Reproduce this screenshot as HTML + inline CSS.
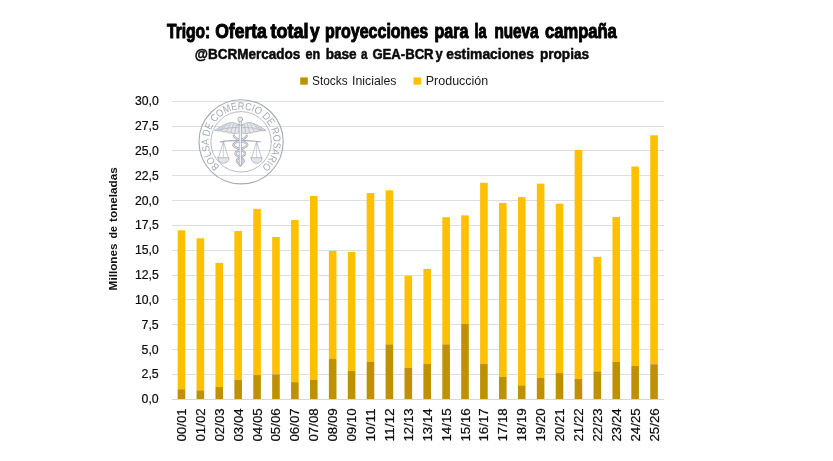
<!DOCTYPE html>
<html lang="es"><head><meta charset="utf-8"><title>Trigo: Oferta total y proyecciones para la nueva campaña</title>
<style>html,body{margin:0;padding:0;background:#fff}body{width:833px;height:461px;overflow:hidden}svg{display:block}text{font-family:"Liberation Sans",sans-serif}</style></head><body>
<svg width="833" height="461" viewBox="0 0 833 461">
<rect width="833" height="461" fill="#fff"/>
<g stroke="#dedede" stroke-width="1" fill="none" shape-rendering="crispEdges">
<line x1="172.0" x2="663.5" y1="399.20" y2="399.20"/>
<line x1="172.0" x2="663.5" y1="374.37" y2="374.37"/>
<line x1="172.0" x2="663.5" y1="349.53" y2="349.53"/>
<line x1="172.0" x2="663.5" y1="324.70" y2="324.70"/>
<line x1="172.0" x2="663.5" y1="299.87" y2="299.87"/>
<line x1="172.0" x2="663.5" y1="275.04" y2="275.04"/>
<line x1="172.0" x2="663.5" y1="250.20" y2="250.20"/>
<line x1="172.0" x2="663.5" y1="225.37" y2="225.37"/>
<line x1="172.0" x2="663.5" y1="200.54" y2="200.54"/>
<line x1="172.0" x2="663.5" y1="175.71" y2="175.71"/>
<line x1="172.0" x2="663.5" y1="150.88" y2="150.88"/>
<line x1="172.0" x2="663.5" y1="126.04" y2="126.04"/>
<line x1="172.0" x2="663.5" y1="101.21" y2="101.21"/>
</g>
<g fill="none" stroke="#a8acb7" stroke-linecap="round" stroke-linejoin="round">
<circle cx="241.1" cy="141.8" r="42.1" stroke-width="1.15"/>
<circle cx="241.1" cy="141.8" r="30.2" stroke-width="0.8"/>
<path id="lp" d="M219.84,166.25 A32.40,32.40 0 1 1 262.36,117.35 A32.40,32.40 0 1 1 219.84,166.25" stroke="none"/>
<text font-size="10.4" fill="#a4a9b4" stroke="none" letter-spacing="0"><textPath href="#lp" startOffset="0" textLength="157.8" lengthAdjust="spacingAndGlyphs">BOLSA DE COMERCIO DE ROSARIO</textPath></text>
<path d="M239.1,125.2 C235.3,122.6 231.3,121.8 227.3,123.4 C222.3,125.4 218.3,128.2 214.7,130.4 C217.3,130.8 219.3,130.9 220.8,130.6 C222.8,131.9 224.8,132.2 226.3,131.7 C228.3,133.1 230.3,133.4 231.5,132.8 C233.3,134.0 234.8,134.0 235.7,133.2 C237.1,134.0 238.5,133.4 239.1,131.5 Z" stroke-width="0.8" fill="#e4e6ea"/><path d="M236.3,125.0 L234.7,133.2" stroke-width="0.6"/><path d="M233.3,124.0 L230.8,132.8" stroke-width="0.6"/><path d="M230.3,123.6 L226.3,131.6" stroke-width="0.6"/><path d="M227.3,124.2 L221.3,130.6" stroke-width="0.6"/><path d="M224.3,126.0 L217.8,130.6" stroke-width="0.6"/><path d="M238.8,127.6 C232.3,127.0 225.3,128.2 218.3,130.2" stroke-width="0.6"/>
<path d="M241.5,125.2 C245.3,122.6 249.3,121.8 253.3,123.4 C258.3,125.4 262.3,128.2 265.9,130.4 C263.3,130.8 261.3,130.9 259.8,130.6 C257.8,131.9 255.8,132.2 254.3,131.7 C252.3,133.1 250.3,133.4 249.1,132.8 C247.3,134.0 245.8,134.0 244.9,133.2 C243.5,134.0 242.1,133.4 241.5,131.5 Z" stroke-width="0.8" fill="#e4e6ea"/><path d="M244.3,125.0 L245.9,133.2" stroke-width="0.6"/><path d="M247.3,124.0 L249.8,132.8" stroke-width="0.6"/><path d="M250.3,123.6 L254.3,131.6" stroke-width="0.6"/><path d="M253.3,124.2 L259.3,130.6" stroke-width="0.6"/><path d="M256.3,126.0 L262.8,130.6" stroke-width="0.6"/><path d="M241.8,127.6 C248.3,127.0 255.3,128.2 262.3,130.2" stroke-width="0.6"/>
<path d="M220.3,141.9 C226,140.6 233,140.5 240.3,140.6 C247.6,140.5 254.6,140.6 260.3,141.9" stroke-width="1.1"/>
<path d="M218.5,157.7 L223.4,141.6 L228.3,157.7" stroke-width="0.7"/>
<path d="M223.4,141.6 V157.7" stroke-width="0.5"/>
<path d="M217.8,157.7 H229.0 C228.6,162 225.9,163.2 223.4,163.2 C220.9,163.2 218.2,162 217.8,157.7 Z" stroke-width="0.8" fill="#e3e5ea"/>
<path d="M251.7,157.7 L256.6,141.6 L261.5,157.7" stroke-width="0.7"/>
<path d="M256.6,141.6 V157.7" stroke-width="0.5"/>
<path d="M251.0,157.7 H262.2 C261.8,162 259.1,163.2 256.6,163.2 C254.1,163.2 251.4,162 251.0,157.7 Z" stroke-width="0.8" fill="#e3e5ea"/>
<path d="M246.74,135.80 L246.59,136.13 L246.38,136.46 L246.11,136.79 L245.79,137.12 L245.42,137.45 L245.01,137.78 L244.54,138.11 L244.04,138.44 L243.50,138.77 L242.93,139.10 L242.34,139.43 L241.72,139.76 L241.09,140.09 L240.45,140.42 L239.69,140.76 L238.91,141.09 L238.15,141.42 L237.41,141.75 L236.71,142.08 L236.05,142.41 L235.44,142.74 L234.90,143.07 L234.43,143.40 L234.03,143.73 L233.71,144.06 L233.48,144.39 L233.35,144.72 L233.31,145.05 L233.46,145.38 L233.69,145.71 L234.01,146.04 L234.40,146.37 L234.86,146.70 L235.38,147.03 L235.96,147.36 L236.58,147.69 L237.23,148.02 L237.91,148.35 L238.60,148.68 L239.29,149.01 L239.98,149.34 L240.65,149.67 L241.30,150.00 L241.92,150.33 L242.50,150.67 L243.03,151.00 L243.50,151.33 L243.92,151.66 L244.28,151.99 L244.57,152.32 L244.79,152.65 L244.95,152.98 L245.04,153.31 L245.05,153.64 L245.01,153.97 L244.90,154.30 L244.70,154.63 L244.41,154.96 L244.03,155.29 L243.59,155.62 L243.08,155.95 L242.52,156.28 L241.94,156.61 L241.33,156.94 L240.72,157.27 L240.12,157.60 L239.53,157.93 L238.99,158.26 L238.49,158.59 L238.04,158.92 L237.66,159.25 L237.35,159.58 L237.12,159.91 L236.96,160.24 L236.88,160.58 L236.89,160.91 L236.99,161.24 L237.16,161.57 L237.37,161.90 L237.62,162.23 L237.89,162.56 L238.19,162.89 L238.50,163.22 L238.82,163.55 L239.14,163.88 L239.46,164.21 L239.76,164.54 L240.04,164.87 L240.30,165.20" stroke-width="2.3"/>
<path d="M246.74,135.80 L246.59,136.13 L246.38,136.46 L246.11,136.79 L245.79,137.12 L245.42,137.45 L245.01,137.78 L244.54,138.11 L244.04,138.44 L243.50,138.77 L242.93,139.10 L242.34,139.43 L241.72,139.76 L241.09,140.09 L240.45,140.42 L239.69,140.76 L238.91,141.09 L238.15,141.42 L237.41,141.75 L236.71,142.08 L236.05,142.41 L235.44,142.74 L234.90,143.07 L234.43,143.40 L234.03,143.73 L233.71,144.06 L233.48,144.39 L233.35,144.72 L233.31,145.05 L233.46,145.38 L233.69,145.71 L234.01,146.04 L234.40,146.37 L234.86,146.70 L235.38,147.03 L235.96,147.36 L236.58,147.69 L237.23,148.02 L237.91,148.35 L238.60,148.68 L239.29,149.01 L239.98,149.34 L240.65,149.67 L241.30,150.00 L241.92,150.33 L242.50,150.67 L243.03,151.00 L243.50,151.33 L243.92,151.66 L244.28,151.99 L244.57,152.32 L244.79,152.65 L244.95,152.98 L245.04,153.31 L245.05,153.64 L245.01,153.97 L244.90,154.30 L244.70,154.63 L244.41,154.96 L244.03,155.29 L243.59,155.62 L243.08,155.95 L242.52,156.28 L241.94,156.61 L241.33,156.94 L240.72,157.27 L240.12,157.60 L239.53,157.93 L238.99,158.26 L238.49,158.59 L238.04,158.92 L237.66,159.25 L237.35,159.58 L237.12,159.91 L236.96,160.24 L236.88,160.58 L236.89,160.91 L236.99,161.24 L237.16,161.57 L237.37,161.90 L237.62,162.23 L237.89,162.56 L238.19,162.89 L238.50,163.22 L238.82,163.55 L239.14,163.88 L239.46,164.21 L239.76,164.54 L240.04,164.87 L240.30,165.20" stroke="#eef0f3" stroke-width="0.9"/>
<path d="M233.86,135.80 L234.01,136.13 L234.22,136.46 L234.49,136.79 L234.81,137.12 L235.18,137.45 L235.59,137.78 L236.06,138.11 L236.56,138.44 L237.10,138.77 L237.67,139.10 L238.26,139.43 L238.88,139.76 L239.51,140.09 L240.15,140.42 L240.91,140.76 L241.69,141.09 L242.45,141.42 L243.19,141.75 L243.89,142.08 L244.55,142.41 L245.16,142.74 L245.70,143.07 L246.17,143.40 L246.57,143.73 L246.89,144.06 L247.12,144.39 L247.25,144.72 L247.29,145.05 L247.14,145.38 L246.91,145.71 L246.59,146.04 L246.20,146.37 L245.74,146.70 L245.22,147.03 L244.64,147.36 L244.02,147.69 L243.37,148.02 L242.69,148.35 L242.00,148.68 L241.31,149.01 L240.62,149.34 L239.95,149.67 L239.30,150.00 L238.68,150.33 L238.10,150.67 L237.57,151.00 L237.10,151.33 L236.68,151.66 L236.32,151.99 L236.03,152.32 L235.81,152.65 L235.65,152.98 L235.56,153.31 L235.55,153.64 L235.59,153.97 L235.70,154.30 L235.90,154.63 L236.19,154.96 L236.57,155.29 L237.01,155.62 L237.52,155.95 L238.08,156.28 L238.66,156.61 L239.27,156.94 L239.88,157.27 L240.48,157.60 L241.07,157.93 L241.61,158.26 L242.11,158.59 L242.56,158.92 L242.94,159.25 L243.25,159.58 L243.48,159.91 L243.64,160.24 L243.72,160.58 L243.71,160.91 L243.61,161.24 L243.44,161.57 L243.23,161.90 L242.98,162.23 L242.71,162.56 L242.41,162.89 L242.10,163.22 L241.78,163.55 L241.46,163.88 L241.14,164.21 L240.84,164.54 L240.56,164.87 L240.30,165.20" stroke-width="2.3"/>
<path d="M233.86,135.80 L234.01,136.13 L234.22,136.46 L234.49,136.79 L234.81,137.12 L235.18,137.45 L235.59,137.78 L236.06,138.11 L236.56,138.44 L237.10,138.77 L237.67,139.10 L238.26,139.43 L238.88,139.76 L239.51,140.09 L240.15,140.42 L240.91,140.76 L241.69,141.09 L242.45,141.42 L243.19,141.75 L243.89,142.08 L244.55,142.41 L245.16,142.74 L245.70,143.07 L246.17,143.40 L246.57,143.73 L246.89,144.06 L247.12,144.39 L247.25,144.72 L247.29,145.05 L247.14,145.38 L246.91,145.71 L246.59,146.04 L246.20,146.37 L245.74,146.70 L245.22,147.03 L244.64,147.36 L244.02,147.69 L243.37,148.02 L242.69,148.35 L242.00,148.68 L241.31,149.01 L240.62,149.34 L239.95,149.67 L239.30,150.00 L238.68,150.33 L238.10,150.67 L237.57,151.00 L237.10,151.33 L236.68,151.66 L236.32,151.99 L236.03,152.32 L235.81,152.65 L235.65,152.98 L235.56,153.31 L235.55,153.64 L235.59,153.97 L235.70,154.30 L235.90,154.63 L236.19,154.96 L236.57,155.29 L237.01,155.62 L237.52,155.95 L238.08,156.28 L238.66,156.61 L239.27,156.94 L239.88,157.27 L240.48,157.60 L241.07,157.93 L241.61,158.26 L242.11,158.59 L242.56,158.92 L242.94,159.25 L243.25,159.58 L243.48,159.91 L243.64,160.24 L243.72,160.58 L243.71,160.91 L243.61,161.24 L243.44,161.57 L243.23,161.90 L242.98,162.23 L242.71,162.56 L242.41,162.89 L242.10,163.22 L241.78,163.55 L241.46,163.88 L241.14,164.21 L240.84,164.54 L240.56,164.87 L240.30,165.20" stroke="#eef0f3" stroke-width="0.9"/>
<path d="M240.3,122 V164.8" stroke-width="3.0"/>
<path d="M240.3,122 V164.4" stroke="#f0f1f4" stroke-width="1.5"/>
<path d="M237.3,125.1 H243.3" stroke-width="0.9"/>
<circle cx="240.3" cy="119.4" r="2.3" stroke-width="0.9" fill="#eceef1"/>
</g>
<g>
<rect x="177.65" y="230.34" width="7.60" height="158.93" fill="#ffc000"/>
<rect x="177.65" y="389.27" width="7.60" height="9.93" fill="#bf9000"/>
<rect x="196.56" y="238.29" width="7.60" height="152.07" fill="#ffc000"/>
<rect x="196.56" y="390.36" width="7.60" height="8.84" fill="#bf9000"/>
<rect x="215.46" y="262.82" width="7.60" height="124.26" fill="#ffc000"/>
<rect x="215.46" y="387.08" width="7.60" height="12.12" fill="#bf9000"/>
<rect x="234.36" y="231.03" width="7.60" height="148.60" fill="#ffc000"/>
<rect x="234.36" y="379.63" width="7.60" height="19.57" fill="#bf9000"/>
<rect x="253.27" y="208.88" width="7.60" height="166.18" fill="#ffc000"/>
<rect x="253.27" y="375.06" width="7.60" height="24.14" fill="#bf9000"/>
<rect x="272.17" y="236.99" width="7.60" height="137.37" fill="#ffc000"/>
<rect x="272.17" y="374.37" width="7.60" height="24.83" fill="#bf9000"/>
<rect x="291.07" y="220.01" width="7.60" height="162.11" fill="#ffc000"/>
<rect x="291.07" y="382.12" width="7.60" height="17.08" fill="#bf9000"/>
<rect x="309.98" y="195.87" width="7.60" height="183.76" fill="#ffc000"/>
<rect x="309.98" y="379.63" width="7.60" height="19.57" fill="#bf9000"/>
<rect x="328.88" y="251.00" width="7.60" height="107.97" fill="#ffc000"/>
<rect x="328.88" y="358.97" width="7.60" height="40.23" fill="#bf9000"/>
<rect x="347.79" y="251.99" width="7.60" height="119.00" fill="#ffc000"/>
<rect x="347.79" y="370.99" width="7.60" height="28.21" fill="#bf9000"/>
<rect x="366.69" y="193.09" width="7.60" height="168.66" fill="#ffc000"/>
<rect x="366.69" y="361.75" width="7.60" height="37.45" fill="#bf9000"/>
<rect x="385.59" y="190.31" width="7.60" height="154.06" fill="#ffc000"/>
<rect x="385.59" y="344.37" width="7.60" height="54.83" fill="#bf9000"/>
<rect x="404.50" y="275.83" width="7.60" height="92.08" fill="#ffc000"/>
<rect x="404.50" y="367.91" width="7.60" height="31.29" fill="#bf9000"/>
<rect x="423.40" y="268.88" width="7.60" height="95.16" fill="#ffc000"/>
<rect x="423.40" y="364.04" width="7.60" height="35.16" fill="#bf9000"/>
<rect x="442.31" y="217.23" width="7.60" height="127.14" fill="#ffc000"/>
<rect x="442.31" y="344.37" width="7.60" height="54.83" fill="#bf9000"/>
<rect x="461.21" y="215.34" width="7.60" height="108.67" fill="#ffc000"/>
<rect x="461.21" y="324.01" width="7.60" height="75.19" fill="#bf9000"/>
<rect x="480.11" y="182.76" width="7.60" height="181.28" fill="#ffc000"/>
<rect x="480.11" y="364.04" width="7.60" height="35.16" fill="#bf9000"/>
<rect x="499.02" y="202.92" width="7.60" height="174.03" fill="#ffc000"/>
<rect x="499.02" y="376.95" width="7.60" height="22.25" fill="#bf9000"/>
<rect x="517.92" y="197.06" width="7.60" height="188.33" fill="#ffc000"/>
<rect x="517.92" y="385.39" width="7.60" height="13.81" fill="#bf9000"/>
<rect x="536.83" y="183.65" width="7.60" height="193.99" fill="#ffc000"/>
<rect x="536.83" y="377.65" width="7.60" height="21.55" fill="#bf9000"/>
<rect x="555.73" y="203.62" width="7.60" height="169.46" fill="#ffc000"/>
<rect x="555.73" y="373.08" width="7.60" height="26.12" fill="#bf9000"/>
<rect x="574.63" y="149.88" width="7.60" height="229.15" fill="#ffc000"/>
<rect x="574.63" y="379.04" width="7.60" height="20.16" fill="#bf9000"/>
<rect x="593.54" y="256.86" width="7.60" height="114.53" fill="#ffc000"/>
<rect x="593.54" y="371.39" width="7.60" height="27.81" fill="#bf9000"/>
<rect x="612.44" y="216.93" width="7.60" height="145.02" fill="#ffc000"/>
<rect x="612.44" y="361.95" width="7.60" height="37.25" fill="#bf9000"/>
<rect x="631.34" y="166.47" width="7.60" height="199.55" fill="#ffc000"/>
<rect x="631.34" y="366.02" width="7.60" height="33.18" fill="#bf9000"/>
<rect x="650.25" y="135.28" width="7.60" height="228.96" fill="#ffc000"/>
<rect x="650.25" y="364.24" width="7.60" height="34.96" fill="#bf9000"/>
</g>
<line x1="172.0" x2="663.5" y1="399.20" y2="399.20" stroke="#d4d6da" stroke-width="1" shape-rendering="crispEdges"/>
<g font-size="12" fill="#0a0a0a" stroke="#0a0a0a" stroke-width="0.2" text-anchor="end">
<text x="158.7" y="403.30" textLength="17.2" lengthAdjust="spacingAndGlyphs">0,0</text>
<text x="158.7" y="378.47" textLength="17.2" lengthAdjust="spacingAndGlyphs">2,5</text>
<text x="158.7" y="353.63" textLength="17.2" lengthAdjust="spacingAndGlyphs">5,0</text>
<text x="158.7" y="328.80" textLength="17.2" lengthAdjust="spacingAndGlyphs">7,5</text>
<text x="158.7" y="303.97" textLength="23.8" lengthAdjust="spacingAndGlyphs">10,0</text>
<text x="158.7" y="279.14" textLength="23.8" lengthAdjust="spacingAndGlyphs">12,5</text>
<text x="158.7" y="254.30" textLength="23.8" lengthAdjust="spacingAndGlyphs">15,0</text>
<text x="158.7" y="229.47" textLength="23.8" lengthAdjust="spacingAndGlyphs">17,5</text>
<text x="158.7" y="204.64" textLength="23.8" lengthAdjust="spacingAndGlyphs">20,0</text>
<text x="158.7" y="179.81" textLength="23.8" lengthAdjust="spacingAndGlyphs">22,5</text>
<text x="158.7" y="154.97" textLength="23.8" lengthAdjust="spacingAndGlyphs">25,0</text>
<text x="158.7" y="130.14" textLength="23.8" lengthAdjust="spacingAndGlyphs">27,5</text>
<text x="158.7" y="105.31" textLength="23.8" lengthAdjust="spacingAndGlyphs">30,0</text>
</g>
<g font-size="12.2" fill="#0a0a0a" stroke="#0a0a0a" stroke-width="0.2">
<text transform="translate(185.95,441.6) rotate(-90)" textLength="33.3" lengthAdjust="spacingAndGlyphs">00/01</text>
<text transform="translate(204.86,441.6) rotate(-90)" textLength="33.3" lengthAdjust="spacingAndGlyphs">01/02</text>
<text transform="translate(223.76,441.6) rotate(-90)" textLength="33.3" lengthAdjust="spacingAndGlyphs">02/03</text>
<text transform="translate(242.66,441.6) rotate(-90)" textLength="33.3" lengthAdjust="spacingAndGlyphs">03/04</text>
<text transform="translate(261.57,441.6) rotate(-90)" textLength="33.3" lengthAdjust="spacingAndGlyphs">04/05</text>
<text transform="translate(280.47,441.6) rotate(-90)" textLength="33.3" lengthAdjust="spacingAndGlyphs">05/06</text>
<text transform="translate(299.38,441.6) rotate(-90)" textLength="33.3" lengthAdjust="spacingAndGlyphs">06/07</text>
<text transform="translate(318.28,441.6) rotate(-90)" textLength="33.3" lengthAdjust="spacingAndGlyphs">07/08</text>
<text transform="translate(337.18,441.6) rotate(-90)" textLength="33.3" lengthAdjust="spacingAndGlyphs">08/09</text>
<text transform="translate(356.09,441.6) rotate(-90)" textLength="33.3" lengthAdjust="spacingAndGlyphs">09/10</text>
<text transform="translate(374.99,441.6) rotate(-90)" textLength="33.3" lengthAdjust="spacingAndGlyphs">10/11</text>
<text transform="translate(393.89,441.6) rotate(-90)" textLength="33.3" lengthAdjust="spacingAndGlyphs">11/12</text>
<text transform="translate(412.80,441.6) rotate(-90)" textLength="33.3" lengthAdjust="spacingAndGlyphs">12/13</text>
<text transform="translate(431.70,441.6) rotate(-90)" textLength="33.3" lengthAdjust="spacingAndGlyphs">13/14</text>
<text transform="translate(450.61,441.6) rotate(-90)" textLength="33.3" lengthAdjust="spacingAndGlyphs">14/15</text>
<text transform="translate(469.51,441.6) rotate(-90)" textLength="33.3" lengthAdjust="spacingAndGlyphs">15/16</text>
<text transform="translate(488.41,441.6) rotate(-90)" textLength="33.3" lengthAdjust="spacingAndGlyphs">16/17</text>
<text transform="translate(507.32,441.6) rotate(-90)" textLength="33.3" lengthAdjust="spacingAndGlyphs">17/18</text>
<text transform="translate(526.22,441.6) rotate(-90)" textLength="33.3" lengthAdjust="spacingAndGlyphs">18/19</text>
<text transform="translate(545.12,441.6) rotate(-90)" textLength="33.3" lengthAdjust="spacingAndGlyphs">19/20</text>
<text transform="translate(564.03,441.6) rotate(-90)" textLength="33.3" lengthAdjust="spacingAndGlyphs">20/21</text>
<text transform="translate(582.93,441.6) rotate(-90)" textLength="33.3" lengthAdjust="spacingAndGlyphs">21/22</text>
<text transform="translate(601.84,441.6) rotate(-90)" textLength="33.3" lengthAdjust="spacingAndGlyphs">22/23</text>
<text transform="translate(620.74,441.6) rotate(-90)" textLength="33.3" lengthAdjust="spacingAndGlyphs">23/24</text>
<text transform="translate(639.64,441.6) rotate(-90)" textLength="33.3" lengthAdjust="spacingAndGlyphs">24/25</text>
<text transform="translate(658.55,441.6) rotate(-90)" textLength="33.3" lengthAdjust="spacingAndGlyphs">25/26</text>
</g>
<g font-size="11.7" font-weight="bold" fill="#111">
<text transform="translate(117.3,290.4) rotate(-90)" textLength="47.0" lengthAdjust="spacingAndGlyphs">Millones</text>
<text transform="translate(117.3,238.4) rotate(-90)" textLength="12.2" lengthAdjust="spacingAndGlyphs">de</text>
<text transform="translate(117.3,221.9) rotate(-90)" textLength="54.6" lengthAdjust="spacingAndGlyphs">toneladas</text>
</g>
<rect x="300.2" y="77.4" width="7.6" height="7.3" fill="#bf9000"/>
<rect x="413.5" y="77.4" width="7.6" height="7.3" fill="#ffc000"/>
<g font-size="12.2" fill="#1a1a1a">
<text x="312" y="84.6" textLength="35.7" lengthAdjust="spacingAndGlyphs">Stocks</text>
<text x="352" y="84.6" textLength="44.5" lengthAdjust="spacingAndGlyphs">Iniciales</text>
<text x="425.8" y="84.6" textLength="62.4" lengthAdjust="spacingAndGlyphs">Producción</text>
</g>
<g font-size="19.4" font-weight="bold" fill="#000" stroke="#000" stroke-width="1.0" stroke-linejoin="round">
<text x="167.0" y="38.0" textLength="43.2" lengthAdjust="spacingAndGlyphs">Trigo:</text>
<text x="215.2" y="38.0" textLength="51.6" lengthAdjust="spacingAndGlyphs">Oferta</text>
<text x="270.6" y="38.0" textLength="38.0" lengthAdjust="spacingAndGlyphs">total</text>
<text x="310.0" y="38.0" textLength="9.6" lengthAdjust="spacingAndGlyphs">y</text>
<text x="325.0" y="38.0" textLength="103.2" lengthAdjust="spacingAndGlyphs">proyecciones</text>
<text x="434.5" y="38.0" textLength="33.9" lengthAdjust="spacingAndGlyphs">para</text>
<text x="474.4" y="38.0" textLength="12.1" lengthAdjust="spacingAndGlyphs">la</text>
<text x="494.4" y="38.0" textLength="44.2" lengthAdjust="spacingAndGlyphs">nueva</text>
<text x="545.0" y="38.0" textLength="71.8" lengthAdjust="spacingAndGlyphs">campaña</text>
</g>
<g font-size="14.5" font-weight="bold" fill="#0a0a0a" stroke="#0a0a0a" stroke-width="0.5" stroke-linejoin="round">
<text x="194.8" y="59.3" textLength="105.5" lengthAdjust="spacingAndGlyphs">@BCRMercados</text>
<text x="305.5" y="59.3" textLength="14.7" lengthAdjust="spacingAndGlyphs">en</text>
<text x="325.7" y="59.3" textLength="31.0" lengthAdjust="spacingAndGlyphs">base</text>
<text x="361.0" y="59.3" textLength="6.5" lengthAdjust="spacingAndGlyphs">a</text>
<text x="372.4" y="59.3" textLength="61.2" lengthAdjust="spacingAndGlyphs">GEA-BCR</text>
<text x="435.4" y="59.3" textLength="7.2" lengthAdjust="spacingAndGlyphs">y</text>
<text x="446.2" y="59.3" textLength="87.8" lengthAdjust="spacingAndGlyphs">estimaciones</text>
<text x="540.0" y="59.3" textLength="49.0" lengthAdjust="spacingAndGlyphs">propias</text>
</g>
</svg></body></html>
